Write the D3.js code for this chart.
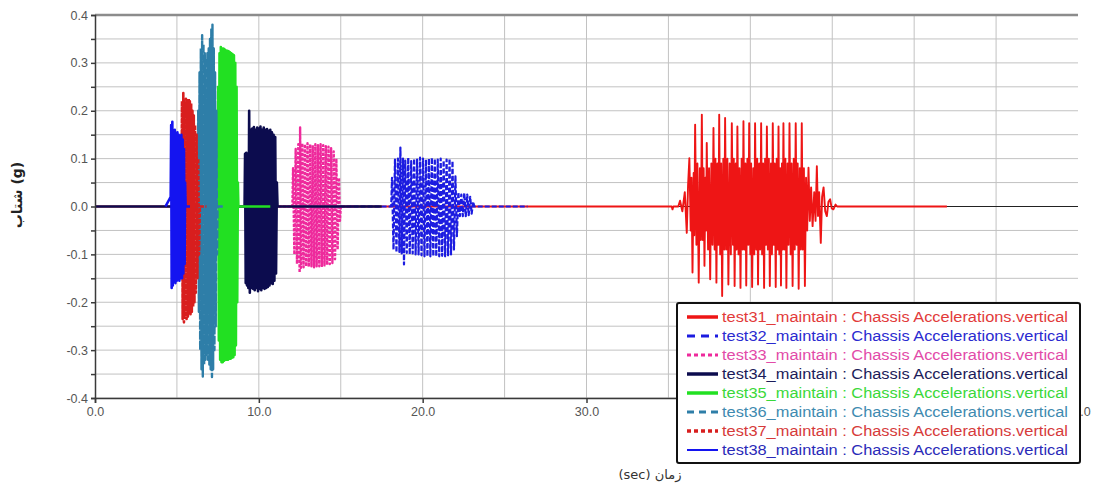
<!DOCTYPE html>
<html>
<head>
<meta charset="utf-8">
<script src="https://cdn.jsdelivr.net/npm/d3@7"></script>
<style>
body { margin: 0; background: #fff; }
svg text { font-family: "Liberation Sans", Arial, sans-serif; }
.grid line { stroke: #c2c2c2; stroke-width: 1; }
.axis path, .axis line { stroke: #3a3a3a; stroke-width: 1.5; }
.axis text { fill: #555; font-size: 12.5px; }
</style>
</head>
<body>
<div id="vis"></div>
<script>
// tick values + labels (40.0 and 50.0 sit behind the legend)
var xTicks = [0, 10, 20, 30, 40, 50, 60],
    xTickLabels = ["0.0", "10.0", "20.0", "30.0", "", "", "60.0"],
    xGrid = [5, 10, 15, 20, 25, 30, 35, 40, 45, 50, 55],
    yTicks = [0.4, 0.35, 0.3, 0.25, 0.2, 0.15, 0.1, 0.05, 0, -0.05, -0.1, -0.15, -0.2, -0.25, -0.3, -0.35, -0.4],
    yTickLabels = ["0.4", "", "0.3", "", "0.2", "", "0.1", "", "0.0", "", "-0.1", "", "-0.2", "", "-0.3", "", "-0.4"];

var names = [
    "test31_maintain : Chassis Accelerations.vertical",
    "test32_maintain : Chassis Accelerations.vertical",
    "test33_maintain : Chassis Accelerations.vertical",
    "test34_maintain : Chassis Accelerations.vertical",
    "test35_maintain : Chassis Accelerations.vertical",
    "test36_maintain : Chassis Accelerations.vertical",
    "test37_maintain : Chassis Accelerations.vertical",
    "test38_maintain : Chassis Accelerations.vertical"
];

// [time (sec), accel (g)]
var s31 = [[0,0],[35.2,0],[35.25,-0.006],[35.3,0],[35.6,0],[35.71,0.012],[35.85,-0.01],[36.0,0.03],[36.12,-0.055],[36.2,0.045],
    [36.28,0.101],[36.36,-0.05],[36.41,0.06],[36.47,-0.138],[36.54,0.07],[36.58,-0.06],
    [36.63,0.171],[36.71,-0.08],[36.77,0.09],[36.85,-0.159],[36.92,0.08],[36.98,-0.07],
    [37.04,0.192],[37.1,-0.07],[37.15,0.08],[37.2,-0.124],[37.26,0.06],[37.3,-0.05],
    [37.34,0.133],[37.42,-0.09],[37.48,0.08],[37.55,-0.152],[37.62,0.09],[37.69,-0.08],
    [37.75,0.164],[37.82,-0.09],[37.87,0.1],[37.93,-0.159],[37.99,0.09],[38.05,-0.08],
    [38.1,0.192],[38.16,-0.1],[38.22,0.09],[38.28,-0.187],[38.35,0.1],[38.41,-0.09],
    [38.46,0.185],[38.53,-0.09],[38.6,0.1],[38.66,-0.163],[38.74,0.09],[38.81,-0.1],
    [38.87,0.174],[38.94,-0.08],[38.99,0.1],[39.04,-0.166],[39.11,0.09],[39.16,-0.09],
    [39.21,0.167],[39.28,-0.1],[39.34,0.08],[39.4,-0.17],[39.47,0.1],[39.53,-0.09],
    [39.58,0.178],[39.64,-0.09],[39.7,0.09],[39.75,-0.165],[39.82,0.1],[39.88,-0.08],
    [39.93,0.174],[40.0,-0.1],[40.05,0.09],[40.11,-0.168],[40.18,0.08],[40.24,-0.1],
    [40.29,0.174],[40.36,-0.09],[40.42,0.1],[40.47,-0.163],[40.54,0.09],[40.6,-0.09],
    [40.66,0.174],[40.72,-0.1],[40.78,0.09],[40.84,-0.17],[40.9,0.1],[40.96,-0.08],
    [41.01,0.167],[41.07,-0.09],[41.13,0.1],[41.19,-0.166],[41.26,0.09],[41.32,-0.1],
    [41.37,0.174],[41.43,-0.08],[41.49,0.09],[41.55,-0.168],[41.61,0.1],[41.67,-0.09],
    [41.72,0.167],[41.77,-0.1],[41.82,0.08],[41.87,-0.165],[41.93,0.09],[41.97,-0.09],
    [42.02,0.174],[42.08,-0.09],[42.14,0.1],[42.2,-0.17],[42.27,0.09],[42.33,-0.08],
    [42.39,0.174],[42.46,-0.1],[42.52,0.09],[42.58,-0.166],[42.65,0.1],[42.71,-0.09],
    [42.77,0.174],[42.83,-0.08],[42.89,0.09],[42.95,-0.172],[43.02,0.08],[43.08,-0.09],
    [43.14,0.174],[43.2,-0.09],[43.27,0.08],[43.33,-0.166],[43.4,0.06],[43.47,-0.05],
    [43.55,0.081],[43.63,-0.03],[43.71,0.04],[43.8,-0.041],[43.9,0.03],[43.98,-0.03],
    [44.06,0.084],[44.13,-0.02],[44.2,0.03],[44.3,-0.076],[44.38,0.02],[44.47,0.04],[44.57,-0.01],
    [44.67,-0.02],[44.77,0.01],[44.87,0.015],[44.97,-0.004],[45.07,-0.006],[45.2,0.004],[45.3,0],[52,0]];

var s32 = [[14.5,0],[18.08,0],[18.13,0.06],[18.22,-0.09],[18.31,0.098],[18.4,-0.096],[18.49,0.1],[18.58,-0.095],
    [18.64,0.123],[18.72,-0.098],[18.8,0.1],[18.86,-0.121],[18.94,0.096],[19.03,-0.097],[19.12,0.102],[19.21,-0.1],
    [19.3,0.095],[19.39,-0.098],[19.48,0.1],[19.57,-0.1],[19.66,0.098],[19.75,-0.1],[19.84,0.102],[19.93,-0.102],
    [20.02,0.1],[20.11,-0.104],[20.2,0.098],[20.29,-0.104],[20.38,0.1],[20.47,-0.104],[20.56,0.102],[20.65,-0.104],
    [20.74,0.1],[20.83,-0.104],[20.92,0.098],[21.01,-0.104],[21.1,0.1],[21.19,-0.103],[21.28,0.096],[21.37,-0.104],
    [21.46,0.098],[21.55,-0.102],[21.64,0.1],[21.73,-0.1],[21.82,0.095],[21.91,-0.09],[22.0,0.063],[22.09,-0.062],
    [22.18,0.03],[22.27,-0.02],[22.36,0.025],[22.45,-0.02],[22.54,0.028],[22.63,-0.02],[22.72,0.025],[22.81,-0.018],
    [22.9,0.02],[22.99,-0.015],[23.08,0.01],[23.15,0],[26.4,0]];

var s33 = [[11.2,0],[12.05,0],[12.09,0.08],[12.17,-0.1],[12.25,0.12],[12.33,-0.12],[12.41,0.13],[12.49,-0.138],
    [12.52,0.165],[12.57,-0.128],[12.65,0.132],[12.73,-0.127],[12.81,0.13],[12.89,-0.125],[12.97,0.132],[13.05,-0.126],
    [13.13,0.13],[13.21,-0.125],[13.29,0.128],[13.37,-0.127],[13.45,0.13],[13.53,-0.125],[13.61,0.128],[13.69,-0.125],
    [13.77,0.13],[13.85,-0.124],[13.93,0.128],[14.01,-0.123],[14.09,0.126],[14.17,-0.122],[14.25,0.125],[14.33,-0.12],
    [14.41,0.122],[14.49,-0.118],[14.57,0.115],[14.65,-0.11],[14.73,0.1],[14.81,-0.09],[14.89,0.06],[14.95,-0.03],
    [15.0,0],[15.8,0]];

var s34 = [[0,0],[9.13,0],[9.16,0.11],[9.2,-0.16],[9.24,0.112],[9.28,-0.165],[9.32,0.11],[9.36,-0.17],[9.41,0.2],
    [9.45,-0.18],[9.5,0.16],[9.55,-0.17],[9.6,0.163],[9.65,-0.172],[9.7,0.166],[9.75,-0.175],[9.8,0.16],[9.85,-0.17],
    [9.9,0.165],[9.95,-0.177],[10.0,0.163],[10.05,-0.172],[10.1,0.167],[10.15,-0.175],[10.2,0.16],[10.25,-0.17],
    [10.3,0.165],[10.35,-0.172],[10.4,0.16],[10.45,-0.17],[10.5,0.162],[10.55,-0.168],[10.6,0.158],[10.65,-0.165],
    [10.7,0.16],[10.75,-0.16],[10.8,0.155],[10.85,-0.162],[10.9,0.15],[10.95,-0.155],[11.0,0.145],[11.05,-0.14],
    [11.1,0.05],[11.14,0],[17.5,0]];

var s35 = [[7.2,0],[7.48,0],[7.52,0.25],[7.56,-0.28],[7.6,0.32],[7.64,-0.32],[7.68,0.333],[7.72,-0.325],[7.76,0.33],
    [7.8,-0.325],[7.84,0.33],[7.88,-0.322],[7.92,0.328],[7.96,-0.32],[8.0,0.326],[8.04,-0.32],[8.08,0.325],[8.12,-0.32],
    [8.16,0.324],[8.2,-0.318],[8.24,0.322],[8.28,-0.318],[8.32,0.32],[8.36,-0.316],[8.4,0.318],[8.44,-0.315],
    [8.48,0.316],[8.52,-0.31],[8.56,0.3],[8.6,-0.29],[8.64,0.25],[8.68,-0.2],[8.72,0.05],[8.75,0],[10.7,0]];

var s36 = [[6.0,0],[6.27,0],[6.3,0.2],[6.34,-0.22],[6.38,0.28],[6.42,-0.3],[6.46,0.33],[6.5,-0.34],[6.54,0.358],
    [6.58,-0.355],[6.62,0.34],[6.66,-0.33],[6.7,0.32],[6.74,-0.32],[6.78,0.31],[6.82,-0.31],[6.86,0.32],[6.9,-0.32],
    [6.94,0.33],[6.98,-0.33],[7.02,0.35],[7.06,-0.34],[7.1,0.37],[7.14,-0.356],[7.17,0.38],[7.21,-0.34],[7.25,0.33],
    [7.29,-0.3],[7.33,0.28],[7.37,-0.25],[7.41,0.2],[7.45,-0.1],[7.48,0],[7.8,0]];

var s37 = [[5.0,0],[5.28,0],[5.31,0.22],[5.35,-0.235],[5.39,0.237],[5.43,-0.242],[5.47,0.22],[5.51,-0.23],[5.55,0.225],
    [5.59,-0.235],[5.63,0.22],[5.67,-0.23],[5.71,0.225],[5.75,-0.225],[5.79,0.22],[5.83,-0.225],[5.87,0.215],
    [5.91,-0.22],[5.95,0.2],[5.99,-0.21],[6.03,0.19],[6.07,-0.2],[6.11,0.17],[6.15,-0.18],[6.2,0.15],[6.25,-0.15],
    [6.3,0.1],[6.35,-0.1],[6.4,0],[6.8,0]];

var s38 = [[4.3,0],[4.62,0.02],[4.65,0.17],[4.68,-0.17],[4.72,0.177],[4.75,-0.165],[4.79,0.15],[4.83,-0.155],
    [4.87,0.16],[4.91,-0.16],[4.95,0.15],[4.99,-0.155],[5.03,0.155],[5.07,-0.15],[5.11,0.15],[5.15,-0.155],
    [5.19,0.145],[5.23,-0.15],[5.27,0.15],[5.31,-0.15],[5.35,0.14],[5.39,-0.14],[5.43,0.12],[5.47,-0.12],
    [5.5,0.05],[5.53,0],[5.8,0]];

var seriesData = [s31, s32, s33, s34, s35, s36, s37, s38];

// styles
var colors = ["#ee1515", "#1c1ce0", "#ee2a9c", "#0c0c4e", "#22e022", "#2e7ea8", "#d81e1e", "#1414f0"],
    textColors = ["#e23a3a", "#2a2ad0", "#e24aa8", "#1c1c5a", "#3ad83a", "#3e8ab0", "#d63a3a", "#2a2ab8"],
    dashes = [null, "5,2", "3,1.5", null, null, "8,2", "4,1.5", null],
    widths = [1.9, 2.2, 2.4, 2.6, 2.6, 2.4, 2.6, 2.6],
    legendDash = [null, "8,6", "4,3", null, null, "7,5", "4,3", null],
    legendWidth = [3.5, 3, 3, 3.5, 3.5, 3, 3.5, 2];

// NB: "top" clashes with window.top, so plot edges get a prefix
var w = 1094, h = 487,
    plotL = 95, plotR = 1078, plotT = 15, plotB = 398;

var x = d3.scaleLinear().domain([0, 60]).range([plotL, plotR]),
    y = d3.scaleLinear().domain([-0.4, 0.4]).range([plotB, plotT]);

var svg = d3.select("#vis").append("svg")
    .attr("width", w)
    .attr("height", h);

svg.append("clipPath").attr("id", "plot")
    .append("rect")
    .attr("x", plotL).attr("y", plotT)
    .attr("width", plotR - plotL).attr("height", plotB - plotT);

// grid
svg.append("g").attr("class", "grid")
    .selectAll("line").data(yTicks).enter().append("line")
    .attr("x1", plotL).attr("x2", plotR)
    .attr("y1", function(d) { return y(d); })
    .attr("y2", function(d) { return y(d); });

svg.append("g").attr("class", "grid")
    .selectAll("line").data(xGrid).enter().append("line")
    .attr("x1", function(d) { return x(d); })
    .attr("x2", function(d) { return x(d); })
    .attr("y1", plotT).attr("y2", plotB);

// top frame line
svg.append("line")
    .attr("x1", plotL).attr("x2", plotR)
    .attr("y1", y(0.4)).attr("y2", y(0.4))
    .attr("stroke", "#8c8c8c").attr("stroke-width", 2.5);

// zero line
svg.append("line")
    .attr("x1", plotL).attr("x2", plotR)
    .attr("y1", y(0)).attr("y2", y(0))
    .attr("stroke", "#222").attr("stroke-width", 1.2);

var line = d3.line()
    .x(function(d) { return x(d[0]); })
    .y(function(d) { return y(d[1]); });

svg.append("g").attr("clip-path", "url(#plot)")
    .selectAll("path").data(seriesData).enter().append("path")
    .attr("d", line)
    .attr("fill", "none")
    .attr("stroke", function(d, i) { return colors[i]; })
    .attr("stroke-width", function(d, i) { return widths[i]; })
    .attr("stroke-linejoin", "round")
    .attr("stroke-dasharray", function(d, i) { return dashes[i]; });

// axes
svg.append("g").attr("class", "axis")
    .attr("transform", "translate(" + plotL + ",0)")
    .call(d3.axisLeft(y).tickValues(yTicks).tickSize(4).tickPadding(3)
        .tickFormat(function(d, i) { return yTickLabels[i]; }));

svg.append("g").attr("class", "axis")
    .attr("transform", "translate(0," + plotB + ")")
    .call(d3.axisBottom(x).tickValues(xTicks).tickSize(5).tickPadding(4)
        .tickFormat(function(d, i) { return xTickLabels[i]; }));

// axis titles
svg.append("text")
    .attr("transform", "translate(22,195) rotate(-90)")
    .attr("text-anchor", "middle")
    .style("font-family", "'DejaVu Sans', sans-serif")
    .style("font-size", "14px")
    .style("font-weight", "bold")
    .attr("fill", "#222")
    .text("شتاب (g)");

svg.append("text")
    .attr("x", 650).attr("y", 479)
    .attr("text-anchor", "middle")
    .attr("direction", "rtl")
    .style("font-family", "'DejaVu Sans', sans-serif")
    .style("font-size", "13px")
    .attr("fill", "#333")
    .text("زمان (sec)");

// legend
var legend = svg.append("g");
legend.append("rect")
    .attr("x", 677).attr("y", 303)
    .attr("width", 403).attr("height", 160)
    .attr("rx", 2)
    .attr("fill", "#fff")
    .attr("stroke", "#111")
    .attr("stroke-width", 2);

var rows = legend.selectAll(".row").data(names).enter().append("g")
    .attr("class", "row")
    .attr("transform", function(d, i) { return "translate(0," + (317 + i * 19) + ")"; });

rows.append("line")
    .attr("x1", 687).attr("x2", 718)
    .attr("stroke", function(d, i) { return colors[i]; })
    .attr("stroke-width", function(d, i) { return legendWidth[i]; })
    .attr("stroke-dasharray", function(d, i) { return legendDash[i]; });

rows.append("text")
    .attr("x", 722).attr("y", 5)
    .attr("textLength", 346)
    .attr("lengthAdjust", "spacingAndGlyphs")
    .style("font-size", "14px")
    .attr("fill", function(d, i) { return textColors[i]; })
    .text(String);
</script>
</body>
</html>
